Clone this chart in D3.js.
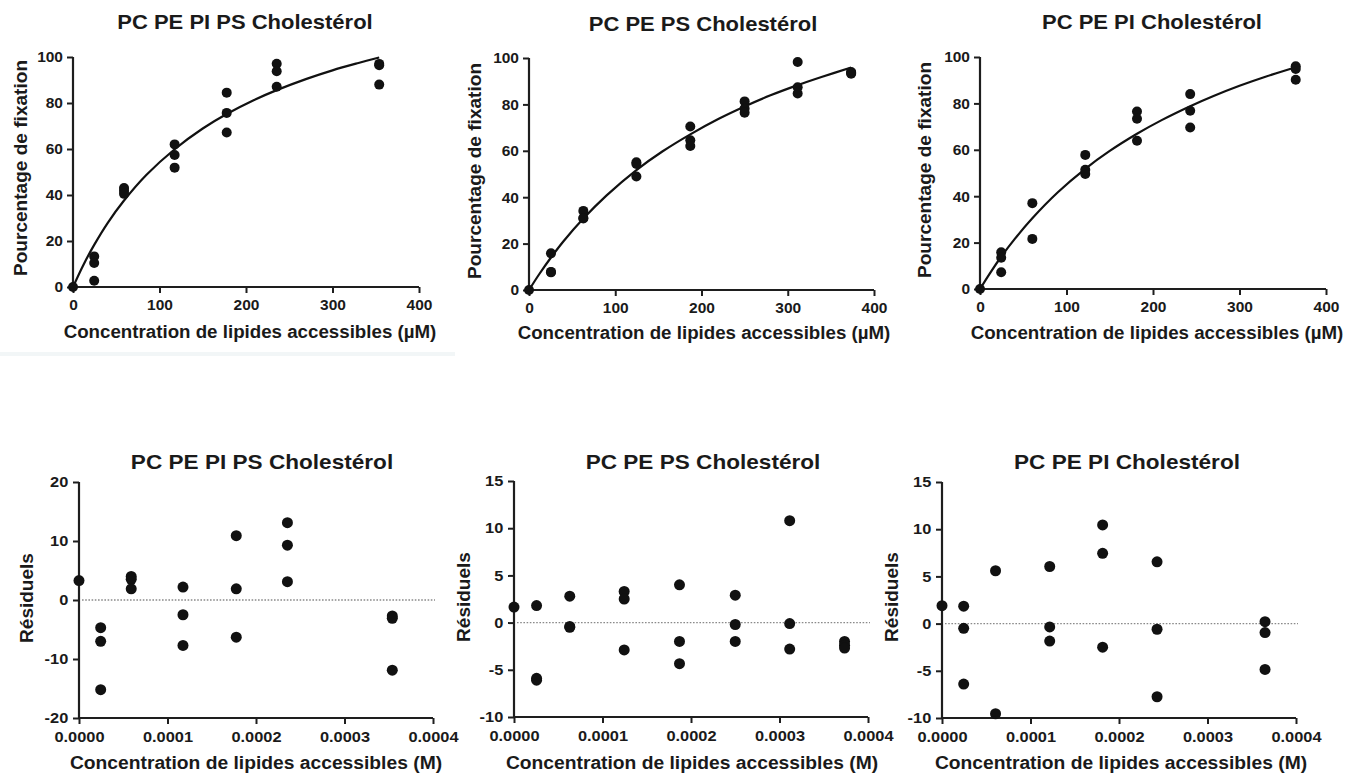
<!DOCTYPE html>
<html><head><meta charset="utf-8">
<script src="https://cdn.jsdelivr.net/npm/d3@7"></script>
<style>
html,body{margin:0;padding:0;background:#fff;}
svg{display:block;font-family:"Liberation Sans",Arial,sans-serif;font-weight:bold;}
text{fill:#1a1a1a;}
</style></head>
<body><svg id="c" width="1358" height="776"></svg>
<script>
// ---------- DATA ----------
const titles = ["PC PE PI PS Cholestérol", "PC PE PS Cholestérol", "PC PE PI Cholestérol"];
const topYLabel = "Pourcentage de fixation";
const topXLabel = "Concentration de lipides accessibles (µM)";
const botYLabel = "Résiduels";
const botXLabel = "Concentration de lipides accessibles (M)";

const topXTicks = [0, 100, 200, 300, 400];
const topYTicks = [0, 20, 40, 60, 80, 100];
const botXTicks = [0, 0.0001, 0.0002, 0.0003, 0.0004];
const botYTicks1 = [-20, -10, 0, 10, 20];
const botYTicks23 = [-10, -5, 0, 5, 10, 15];

// concentrations (µM)
const conc1 = [0, 24.5, 59, 117.5, 177.7, 235.5, 354];
const conc2 = [0, 25.5, 63, 124.5, 187, 250, 311.5, 373.5];
const conc3 = [0, 24.5, 60.5, 121.7, 181.5, 243, 365];

// % fixation
const fix1 = [[0], [13.3, 10.4, 2.7], [43, 41.8, 40.5], [62, 57.4, 51.9], [84.5, 75.7, 67.2], [97.1, 93.8, 87.1], [97, 96.4, 88]];
const fix2 = [[0], [15.8, 7.8, 7.6], [34.1, 31, 30.8], [55.1, 54.3, 48.9], [70.5, 64.5, 62.1], [81.3, 78.2, 76.4], [98.3, 87.4, 84.7], [94, 93.6, 93.2]];
const fix3 = [[0], [15.8, 13.5, 7.2], [37, 21.6], [57.8, 51.4, 49.6], [76.5, 73.4, 63.9], [84, 76.8, 69.6], [96, 94.8, 90.2]];

// fitted curves
const curve1X = [0, 12, 24.5, 40, 59, 85, 117.5, 150, 177.7, 210, 235.5, 270, 300, 330, 354];
const curve1Y = [0, 9.6, 18.3, 27.8, 37.6, 48.8, 59.9, 68.9, 75.2, 81.4, 85.6, 90.5, 94.2, 97.4, 99.8];
const curve2X = [0, 12, 25.5, 40, 63, 90, 124.5, 155, 187, 220, 250, 280, 311.5, 340, 373.5];
const curve2Y = [0, 6.9, 14.0, 21.0, 30.8, 40.8, 51.7, 59.8, 67.1, 73.8, 79.1, 83.9, 88.3, 91.9, 95.9];
const curve3X = [0, 12, 24.5, 40, 60.5, 90, 121.7, 150, 181.5, 210, 243, 270, 300, 330, 365];
const curve3Y = [0, 7.1, 13.9, 21.5, 30.5, 41.7, 51.8, 59.5, 66.9, 72.8, 78.8, 83.2, 87.6, 91.5, 95.6];

// residuals (concentration in M)
const res1 = [[3.3], [-4.7, -7.0, -15.2], [4.0, 3.5, 1.9], [2.2, -2.5, -7.7], [10.9, 1.9, -6.3], [13.1, 9.3, 3.1], [-2.7, -3.1, -11.9]];
const res2 = [[1.65], [1.8, -5.9, -6.1], [2.8, -0.5, -0.4], [3.3, 2.5, -2.9], [4.0, -2.0, -4.35], [2.9, -0.2, -2.0], [10.8, -0.1, -2.8], [-2.0, -2.4, -2.7]];
const res3 = [[1.9], [1.85, -0.5, -6.4], [5.6, -9.55], [6.05, -0.35, -1.85], [10.45, 7.45, -2.5], [6.55, -0.6, -7.75], [0.2, -0.95, -4.85]];

// ---------- DRAW ----------
const svg = d3.select("#c");
svg.append("rect").attr("x", 0).attr("y", 352).attr("width", 455).attr("height", 4).attr("fill", "#f2f6f7");

const AX = "#1e1e1e", DOT = "#111";
const intFmt = d => String(d);

function txt(x, y, s, size, sx, rot) {
  svg.append("text")
    .attr("transform", `translate(${x},${y}) rotate(${rot || 0}) scale(${sx},1)`)
    .attr("text-anchor", "middle")
    .style("font-size", size + "px")
    .text(s);
}

function styleAxis(g, fs, sx) {
  g.select(".domain").attr("stroke", AX).attr("stroke-width", 2.2);
  g.selectAll(".tick line").attr("stroke", AX).attr("stroke-width", 2);
  g.selectAll(".tick text").style("font-size", fs + "px").style("font-family", "'Liberation Sans',Arial,sans-serif")
    .style("font-weight", "bold").attr("fill", "#1a1a1a").attr("transform", `scale(${sx},1)`);
}

function panel(cfg) {
  const x = d3.scaleLinear().domain(cfg.xDomain).range(cfg.xRange);
  const y = d3.scaleLinear().domain(cfg.yDomain).range(cfg.yRange);
  const g = svg.append("g");
  const gx = g.append("g").attr("transform", `translate(0,${cfg.yRange[0]})`)
    .call(d3.axisBottom(x).tickValues(cfg.xTicks).tickFormat(cfg.xFmt).tickSize(6).tickSizeOuter(0).tickPadding(cfg.xPad));
  styleAxis(gx, cfg.tickFs, cfg.tickSx);
  const gy = g.append("g").attr("transform", `translate(${cfg.xRange[0]},0)`)
    .call(d3.axisLeft(y).tickValues(cfg.yTicks).tickFormat(intFmt).tickSize(6).tickSizeOuter(0).tickPadding(cfg.yPad));
  styleAxis(gy, cfg.tickFs, cfg.tickSx);
  gy.select(".domain").attr("d", `M0,${cfg.yRange[0] + 1}V${cfg.yRange[1]}`);
  gx.select(".domain").attr("d", `M${cfg.xRange[0] - 1},0H${cfg.xRange[1]}`);

  if (cfg.zeroLine) {
    g.append("line").attr("x1", x(0) + 3).attr("x2", x(cfg.xDomain[1]) + 2)
      .attr("y1", y(0)).attr("y2", y(0))
      .attr("stroke", "#8a8a8a").attr("stroke-width", 1.3).attr("stroke-dasharray", "1.6,1.6");
  }
  if (cfg.curveX) {
    const pts = cfg.curveX.map((v, i) => [v, cfg.curveY[i]]);
    g.append("path").datum(pts)
      .attr("d", d3.line().x(d => x(d[0])).y(d => y(d[1])).curve(d3.curveCatmullRom))
      .attr("fill", "none").attr("stroke", "#111").attr("stroke-width", 2.2);
  }
  const pts = [];
  cfg.xs.forEach((xv, i) => cfg.ys[i].forEach(v => pts.push([xv * cfg.xMul, v])));
  g.selectAll("circle.p").data(pts).join("circle")
    .attr("cx", d => x(d[0])).attr("cy", d => y(d[1])).attr("r", cfg.r).attr("fill", DOT);

  txt(cfg.title[0], cfg.title[1], cfg.title[2], 20, cfg.titleSx, 0);
  txt(cfg.xl[0], cfg.xl[1], cfg.xl[2], cfg.xlFs, cfg.xlSx, 0);
  txt(cfg.yl[0], cfg.yl[1], cfg.yl[2], cfg.ylFs, cfg.ylSx, -90);
}

const topCommon = { xDomain: [0, 400], yDomain: [0, 100], xTicks: topXTicks, yTicks: topYTicks, xFmt: intFmt,
  xPad: 6, yPad: 4, tickFs: 15.5, tickSx: 1.0, r: 5, xMul: 1, titleSx: 1.1, xlFs: 18, xlSx: 1.04, ylFs: 18, ylSx: 1.06 };
const botCommon = { xDomain: [0, 0.0004], xTicks: botXTicks, xFmt: d3.format(".4f"),
  xPad: 8, yPad: 3.5, tickFs: 14.5, tickSx: 1.13, r: 5.5, xMul: 1e-6, titleSx: 1.13, xlFs: 18, xlSx: 1.07, ylFs: 19, ylSx: 1.0, zeroLine: true };

panel(Object.assign({}, topCommon, { xRange: [73, 419], yRange: [287, 57], xs: conc1, ys: fix1, curveX: curve1X, curveY: curve1Y,
  title: [245, 29, titles[0]], xl: [250, 338, topXLabel], yl: [27, 168, topYLabel] }));
panel(Object.assign({}, topCommon, { xRange: [529, 874], yRange: [290, 58], xs: conc2, ys: fix2, curveX: curve2X, curveY: curve2Y,
  title: [703, 31, titles[1]], xl: [704, 339, topXLabel], yl: [481, 171, topYLabel] }));
panel(Object.assign({}, topCommon, { xRange: [980, 1326], yRange: [289, 57], xs: conc3, ys: fix3, curveX: curve3X, curveY: curve3Y,
  title: [1152, 29, titles[2]], xl: [1157, 339, topXLabel], yl: [931, 170, topYLabel] }));

panel(Object.assign({}, botCommon, { xRange: [79, 433], yRange: [718, 482], yDomain: [-20, 20], yTicks: botYTicks1, xs: conc1, ys: res1,
  title: [262, 469, titles[0]], xl: [256, 769, botXLabel], yl: [33, 598, botYLabel] }));
panel(Object.assign({}, botCommon, { xRange: [514, 868], yRange: [717, 481], yDomain: [-10, 15], yTicks: botYTicks23, xs: conc2, ys: res2,
  title: [703, 469, titles[1]], xl: [692, 769, botXLabel], yl: [470, 597, botYLabel] }));
panel(Object.assign({}, botCommon, { xRange: [942, 1296], yRange: [718, 482], yDomain: [-10, 15], yTicks: botYTicks23, xs: conc3, ys: res3,
  title: [1127, 469, titles[2]], xl: [1121, 769, botXLabel], yl: [898, 597, botYLabel] }));
</script></body></html>
